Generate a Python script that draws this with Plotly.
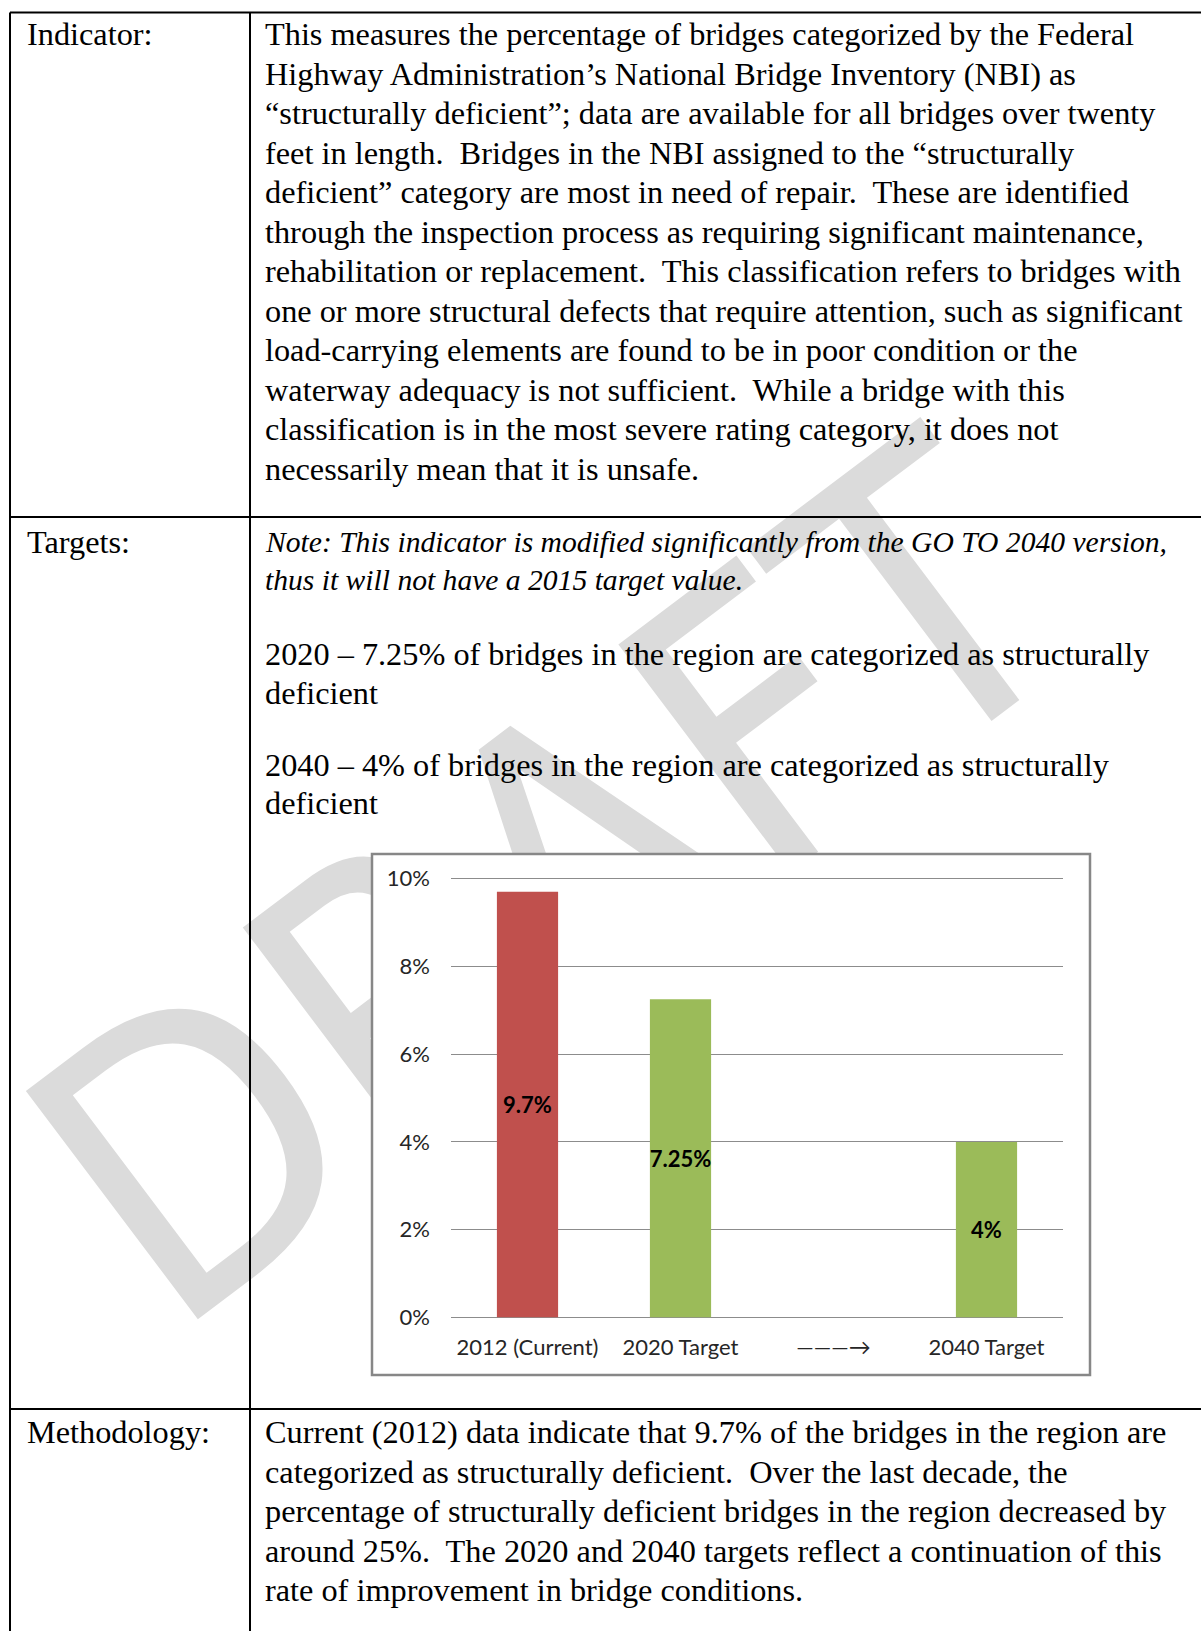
import plotly.graph_objects as go

W, H = 1201, 1631


def px(x):
    return x / W


def py(y):
    return 1 - y / H


# ---------------- chart data ----------------
categories = ["2012 (Current)", "2020 Target", "———→", "2040 Target"]
values = [9.7, 7.25, None, 4.0]
bar_colors = ["#C0504D", "#9BBB59", "#9BBB59", "#9BBB59"]
y_ticks = [0, 2, 4, 6, 8, 10]
y_tick_text = ["%d%%" % v for v in y_ticks]
bar_text = ["" if v is None else ("%g%%" % v) for v in values]

# ---------------- document text ----------------
row_labels = ["Indicator:", "Targets:", "Methodology:"]
indicator_lines = [
    "This measures the percentage of bridges categorized by the Federal",
    "Highway Administration’s National Bridge Inventory (NBI) as",
    "“structurally deficient”; data are available for all bridges over twenty",
    "feet in length.  Bridges in the NBI assigned to the “structurally",
    "deficient” category are most in need of repair.  These are identified",
    "through the inspection process as requiring significant maintenance,",
    "rehabilitation or replacement.  This classification refers to bridges with",
    "one or more structural defects that require attention, such as significant",
    "load-carrying elements are found to be in poor condition or the",
    "waterway adequacy is not sufficient.  While a bridge with this",
    "classification is in the most severe rating category, it does not",
    "necessarily mean that it is unsafe.",
]
note_lines = [
    "Note: This indicator is modified significantly from the GO TO 2040 version,",
    "thus it will not have a 2015 target value.",
]
target_lines = [
    "2020 – 7.25% of bridges in the region are categorized as structurally",
    "deficient",
    "2040 – 4% of bridges in the region are categorized as structurally",
    "deficient",
]
method_lines = [
    "Current (2012) data indicate that 9.7% of the bridges in the region are",
    "categorized as structurally deficient.  Over the last decade, the",
    "percentage of structurally deficient bridges in the region decreased by",
    "around 25%.  The 2020 and 2040 targets reflect a continuation of this",
    "rate of improvement in bridge conditions.",
]
watermark_text = "DRAFT"

# ---------------- layout positions (pixels) ----------------
TEXT_X = 263
LABEL_X = 25
indicator_y = [34.3 + 39.5 * i for i in range(len(indicator_lines))]
note_y = [542, 580]
target_y = [654, 693, 765, 803]
method_y = [1432 + 39.5 * i for i in range(len(method_lines))]
label_y = [34.3, 542, 1432]

SERIF = "Liberation Serif, Times New Roman, serif"
BODY_SIZE = 32.3
NOTE_SIZE = 29.6
CHART_FONT = "Lato, Carlito, Calibri, sans-serif"
CHART_SIZE = 22

annotations = []


def add_line(text, x, y, size=BODY_SIZE, italic=False):
    annotations.append(dict(
        x=px(x), y=py(y), xref="paper", yref="paper",
        xanchor="left", yanchor="middle", showarrow=False,
        text=("<i>%s</i>" % text) if italic else text,
        font=dict(family=SERIF, size=size, color="#000000"),
    ))


for t, y in zip(row_labels, label_y):
    add_line(t, LABEL_X, y)
for t, y in zip(indicator_lines, indicator_y):
    add_line(t, TEXT_X, y)
for t, y in zip(note_lines, note_y):
    add_line(t, TEXT_X, y, size=NOTE_SIZE, italic=True)
for t, y in zip(target_lines, target_y):
    add_line(t, TEXT_X, y)
for t, y in zip(method_lines, method_y):
    add_line(t, TEXT_X, y)

shapes = []
# watermark (below everything)
WM_CX, WM_CY = 532, 862
shapes.append(dict(
    type="rect", xref="paper", yref="paper", layer="below",
    x0=px(WM_CX - 40), x1=px(WM_CX + 40), y0=py(WM_CY + 40), y1=py(WM_CY - 40),
    line=dict(width=0), fillcolor="rgba(0,0,0,0)",
    label=dict(text=watermark_text, textangle=-37, textposition="middle center",
               font=dict(family="Liberation Sans Narrow, DejaVu Sans Condensed, sans-serif",
                         size=392, color="#DBDBDB")),
))
# chart box (white, covers watermark)
shapes.append(dict(
    type="rect", xref="paper", yref="paper", layer="below",
    x0=px(372), x1=px(1090), y0=py(1375), y1=py(854),
    line=dict(color="#878787", width=2.5), fillcolor="#FFFFFF",
))
# table rules
TABLE_TOP = 12.5
for (x0, y0, x1, y1) in [
    (10, TABLE_TOP, W, TABLE_TOP),
    (10, TABLE_TOP, 10, H),
    (250, TABLE_TOP, 250, H),
    (10, 517, W, 517),
    (10, 1409, W, 1409),
]:
    shapes.append(dict(
        type="line", xref="paper", yref="paper", layer="above",
        x0=px(x0), x1=px(x1), y0=py(y0), y1=py(y1),
        line=dict(color="#000000", width=2),
    ))

Y_TOP = 10.05
PX_PER_UNIT = (1317.5 - 878.6) / 10.0

fig = go.Figure()
fig.add_trace(go.Bar(
    x=categories, y=values, width=0.4,
    marker=dict(color=bar_colors, line=dict(width=0)),
    text=bar_text, texttemplate="%{text}",
    textposition="inside", insidetextanchor="middle",
    textangle=0, constraintext="none",
    insidetextfont=dict(family=CHART_FONT, size=CHART_SIZE, color="#000000", weight="bold"),
    hoverinfo="skip",
))

fig.update_layout(
    width=W, height=H, autosize=False,
    margin=dict(l=0, r=0, t=0, b=0, pad=0, autoexpand=False),
    paper_bgcolor="#FFFFFF", plot_bgcolor="rgba(0,0,0,0)",
    showlegend=False,
    xaxis=dict(
        domain=[px(451), px(1063)], type="category",
        categoryorder="array", categoryarray=categories,
        showgrid=False, showline=False, zeroline=False, ticks="",
        tickfont=dict(family=CHART_FONT, size=CHART_SIZE, color="#262626"),
        ticklabelstandoff=14, fixedrange=True, automargin=False,
    ),
    yaxis=dict(
        domain=[py(1317.5), py(1317.5 - Y_TOP * PX_PER_UNIT)], range=[0, Y_TOP],
        tickvals=y_ticks, ticktext=y_tick_text,
        showgrid=True, gridcolor="#8C8C8C", gridwidth=1,
        zeroline=True, zerolinecolor="#8C8C8C", zerolinewidth=1,
        showline=False, ticks="",
        tickfont=dict(family=CHART_FONT, size=CHART_SIZE, color="#262626"),
        ticklabelstandoff=20, fixedrange=True, automargin=False,
    ),
    annotations=annotations,
    shapes=shapes,
)

fig.write_html("out.html", config=dict(displayModeBar=False))
